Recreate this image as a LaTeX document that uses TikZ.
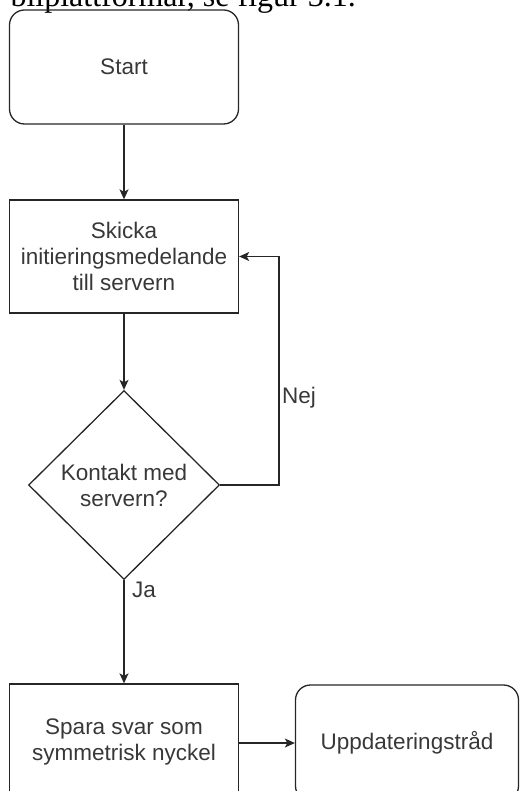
\documentclass[tikz,border=0pt]{standalone}
\usepackage{fontspec}
\setmainfont{Liberation Sans}
\newfontfamily\serifpage{Liberation Serif}
\usetikzlibrary{shapes.geometric,arrows.meta}
\tikzset{
  box/.style={draw=black!85, line width=1.3pt, minimum width=229pt, inner sep=0pt,
    align=center, text=black!78, font=\fontsize{22.5}{26}\selectfont},
  rbox/.style={box, rounded corners=15pt},
  dia/.style={draw=black!85, line width=1.3pt, shape=diamond, minimum width=191pt, minimum height=189pt,
    inner sep=0pt, align=center, text=black!78, font=\fontsize{22.5}{26}\selectfont},
  conn/.style={draw=black!85, line width=1.3pt, -{Stealth[length=10pt,width=9pt,inset=2.5pt]}},
  lbl/.style={text=black!78, font=\fontsize{22.5}{26}\selectfont, inner sep=0pt},
}
\begin{document}
\begin{tikzpicture}[x=1pt,y=-1pt]
\useasboundingbox (0,0) rectangle (520,791);
\clip (0,0) rectangle (520,791);
\node[anchor=base east, font=\serifpage\fontsize{32}{36}\selectfont, inner sep=0pt] (pagetext) at (356,7) {bilplattformar, se figur 3.1.};
\node[rbox, minimum height=114pt] (start) at (124,67) {Start};
\node[box, minimum height=113pt] (send) at (124,256.5) {Skicka\\initieringsmedelande\\till servern};
\node[dia] (check) at (124,485) {Kontakt med\\servern?};
\node[box, minimum height=116pt] (save) at (124,742) {Spara svar som\\symmetrisk nyckel};
\node[rbox, minimum width=223pt, minimum height=116pt] (upd) at (407,743) {Uppdateringstråd};
\coordinate (c1) at (279,485);
\coordinate (c2) at (279,256.5);
\draw[conn] (start.south) -- (send.north);
\draw[conn] (send.south) -- (check.north);
\draw[conn] (check.east) -- (c1) -- (c2) -- (send.east);
\draw[conn] (check.south) -- (save.north);
\draw[conn] (save.east |- upd.west) -- (upd.west);
\node[lbl, anchor=west] (nej) at (282,398) {Nej};
\node[lbl, anchor=west] (ja) at (132,590) {Ja};
\end{tikzpicture}
\end{document}
